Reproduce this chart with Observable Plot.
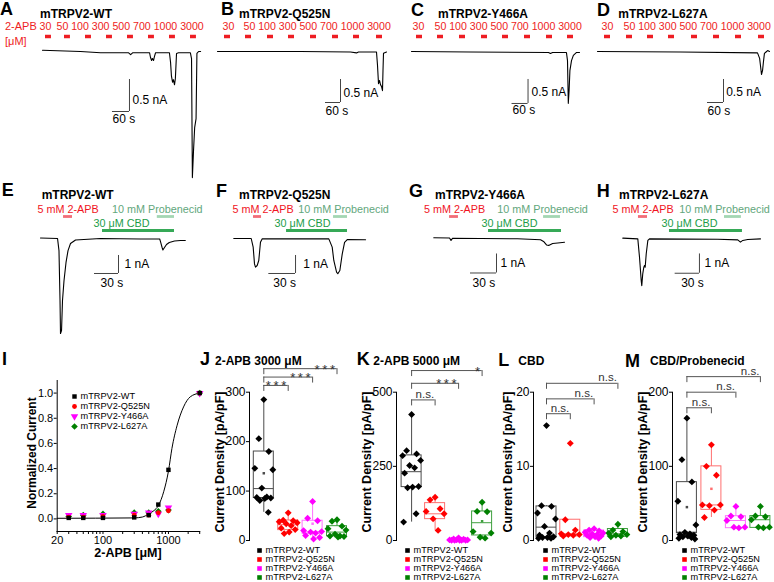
<!DOCTYPE html>
<html><head><meta charset="utf-8">
<script src="https://cdn.jsdelivr.net/npm/d3@7"></script>
<script src="https://cdn.jsdelivr.net/npm/@observablehq/plot@0.6"></script>
<style>
body{margin:0;background:#fff}
#fig{position:relative;width:774px;height:582px;overflow:hidden;background:#fff;font-family:"Liberation Sans",Arial,sans-serif;color:#000}
.lbl{position:absolute;white-space:nowrap;line-height:1}
#fig svg{position:absolute;overflow:visible}
</style></head><body><div id="fig"></div>
<script>
// ---------------- DATA ----------------
const genotypes = ["mTRPV2-WT", "mTRPV2-Q525N", "mTRPV2-Y466A", "mTRPV2-L627A"];
const concentrations = [30, 50, 100, 300, 500, 700, 1000, 3000];

// A-D: 2-APB application start times (s) and whole-cell traces [time s, current nA]
const appsA = [10.6, 77.6, 151.8, 225.9, 300, 374.1, 448.2, 522.3];
const appsB = [28, 112, 200, 284, 372, 460, 544, 636];
const appsC = [18.75, 97.5, 180, 262.5, 341.25, 423.75, 506.25, 585];
const appsD = [26.25, 108.75, 187.5, 266.25, 352.5, 435, 517.5, 603.75];
const traceA = [[0,0.02],[134,0],[205,-0.02],[304,-0.02],[311,-0.05],[318,-0.02],[378,-0.02],[381,-0.09],[385,-0.14],[388,-0.11],[392,-0.14],[395,-0.08],[399,-0.02],[448,-0.02],[452,-0.17],[455,-0.38],[459,-0.48],[462,-0.44],[466,-0.52],[469,-0.42],[473,-0.03],[480,-0.02],[522,-0.02],[526,-0.11],[529,-1.97],[533,-1.55],[537,-1.19],[542,-1.05],[545,-0.03],[551,0],[558,0]];
const traceB = [[0,0],[332,0],[532,-0.01],[556,-0.03],[564,-0.01],[636,-0.01],[640,-0.3],[644,-0.7],[648,-0.63],[652,-0.72],[656,-0.76],[660,-0.85],[662,-0.41],[664,-0.04],[676,-0.01]];
const traceC = [[0,0],[221,-0.01],[514,-0.02],[521,-0.04],[529,-0.02],[581,-0.02],[585,-0.19],[588,-1.08],[591,-0.81],[594,-0.4],[600,-0.19],[607,-0.08],[619,-0.02],[630,-0.02]];
const traceD = [[0,0],[311,-0.01],[600,-0.03],[608,-0.15],[611,-0.3],[615,-0.5],[619,-0.41],[622,-0.24],[626,-0.04],[632,-0.01],[638,0.02],[645,0]];

// E-H: drug application windows [start, end] (s) and traces
const apbE = [28.8, 40],  probE = [146, 167.5], cbdE = [77.5, 167.5];
const apbF = [22.5, 31.5], probF = [112.4, 128.1], cbdF = [59.6, 128.1];
const apbG = [18.5, 28.8], probG = [127, 146.5], cbdG = [63.5, 147.7];
const apbH = [19.7, 30.9], probH = [125.9, 146.8], cbdH = [58, 148.1];
const traceE = [[0,0.03],[21.3,0],[23.1,-0.67],[24.4,-3.44],[25,-5.28],[26.3,-5.11],[27.5,-3.44],[29.4,-2.33],[31.9,-1.33],[34.4,-0.67],[37.5,-0.28],[43.8,-0.08],[75,0],[125,-0.03],[149,-0.03],[150,-0.17],[152,-0.5],[153,-0.64],[155,-0.5],[157.5,-0.33],[161,-0.22],[167.5,-0.14],[175,-0.11],[181,-0.11]];
const traceF = [[0.3,0],[19.9,0],[22.1,-0.48],[23.6,-1.41],[24.7,-1.59],[26.6,-1.5],[28.4,-1.22],[30.3,-0.21],[32.3,-0.02],[107.1,-0.02],[110.9,-0.48],[112.7,-1.22],[115.8,-1.87],[117.2,-1.96],[119.5,-1.78],[122.2,-0.85],[124.8,-0.21],[127.8,-0.06],[148.4,-0.07]];
const traceG = [[0.3,0.01],[18.5,0],[20.2,-0.13],[21.9,-0.02],[54.2,-0.03],[96.9,-0.04],[123.5,-0.09],[127,-0.18],[130.6,-0.37],[132.9,-0.39],[137.5,-0.29],[143.3,-0.26],[151.2,-0.22]];
const traceH = [[0.4,0.02],[18.9,-0.02],[21,-0.97],[23.1,-2.18],[23.8,-2.44],[25,-1.83],[26.3,-1.49],[27.2,-1.4],[28,-1.49],[29.3,-0.79],[31.3,-0.1],[33.3,-0.02],[117.6,-0.04],[142.3,-0.07],[145.6,-0.19],[148.5,-0.1],[154.6,-0.05],[170.3,-0.02]];

// I: dose-response (normalized current)
const doseConc = [30, 50, 100, 300, 500, 700, 1000, 3000];
const doseWT    = [0.008, 0.008, 0.008, 0.012, 0.03, 0.114, 0.39, 1.0];
const doseQ525N = [0.015, 0.015, 0.02, 0.03, 0.03, 0.05, 0.065, 1.0];
const doseY466A = [0.03, 0.03, 0.03, 0.04, 0.05, 0.04, 0.09, 1.0];
const doseL627A = [0.02, 0.03, 0.04, 0.05, 0.05, 0.06, 0.07, 1.0];
const fitConc = [20, 300, 400, 500, 600, 700, 850, 1000, 1130, 1350, 1700, 2150, 3000];
const fitWT   = [0.005, 0.008, 0.015, 0.04, 0.066, 0.105, 0.22, 0.38, 0.56, 0.74, 0.89, 0.97, 1.0];

// J-M: current densities (pA/pF), per genotype
const jWT = [285, 206, 180, 146, 143, 106, 88, 87, 86, 85, 81, 57];
const jQ525N = [56, 41, 40, 38, 36, 34, 30, 25, 22, 17, 14];
const jY466A = [79, 45, 40, 20, 18, 17, 15, 10, 6, 3];
const jL627A = [42, 39, 29, 24, 21, 13, 9, 9, 8, 7];
const kWT = [425, 303, 292, 286, 270, 253, 245, 227, 182, 180, 178, 90, 62];
const kQ525N = [146, 137, 107, 98, 90, 73, 34];
const kY466A = [9, 5, 4, 2, 2, 2, 1, 1, 1, 1, 1];
const kL627A = [129, 98, 97, 30, 25, 11, 8];
const lWT = [15.5, 4.7, 4.6, 3.7, 2.9, 1.9, 1.0, 0.7, 0.5, 0.4, 0.4, 0.3, 0.3];
const lQ525N = [13.1, 2.8, 1.4, 0.9, 0.8, 0.8, 0.7, 0.6];
const lY466A = [1.6, 1.4, 1.3, 1.1, 1.0, 0.9, 0.8, 0.7, 0.6, 0.5, 0.4, 0.3];
const lL627A = [2.2, 1.4, 1.2, 1.0, 0.8, 0.7, 0.6, 0.5];
const mWT = [165, 109, 79, 53, 21, 11, 9, 8, 7, 6, 5, 4, 3, 2];
const mQ525N = [129, 100, 88, 48, 48, 47, 41, 31];
const mY466A = [46, 33, 32, 27, 18, 18, 17];
const mL627A = [46, 33, 32, 28, 18, 18, 17];
// box statistics [q1, median, q3, whiskerLow, whiskerHigh, mean]
const boxJ = [[86,105,180,57,285,136],[21,32,40.5,14,56,null],[13.5,17.5,40,3,79,34],[8.7,17,29,7,42,null]];
const boxK = [[180,232,287,62,425,null],[72,90,126,34,146,null],[1,2,3,1,9,null],[17,60,98,8,129,65]];
const boxL = [[0.45,1.8,4.6,0.3,4.7,null],[0.55,0.9,2.8,0.6,2.8,null],[0.45,0.9,1.35,0.3,1.6,null],[0.5,0.9,1.55,0.5,2.2,null]];
const boxM = [[9.9,11.2,78.7,2,165,45],[41.3,48,100,31,129,69.7],[16.6,27,32.8,17,46,null],[17,28,33,17,46,null]];
// significance (vs WT): bracket heights and labels
const sigJ = [313.7, 330.6, 347.6], sigJlbl = ["***", "***", "***"];
const sigK = [474, 530, 573],       sigKlbl = ["n.s.", "***", "*"];
const sigL = [17.1, 19.1, 21.2],    sigLlbl = ["n.s.", "n.s.", "n.s."];
const sigM = [179, 200, 221],       sigMlbl = ["n.s.", "n.s.", "n.s."];

// ---------------- STYLE / HELPERS ----------------
const RED = "#ee1d23";
const genoColors = ["#000000", "#ff0000", "#ff00ff", "#008000"];
const boxColors = ["#4a4a4a", "#ff6f6f", "#ff70ff", "#3fa03f"];
const STYLE = {background: "transparent", overflow: "visible", fontFamily: '"Liberation Sans", Arial, sans-serif', fontSize: "12px", color: "#000"};
const fig = document.getElementById("fig");
function put(el, left, top) { el.style.position = "absolute"; el.style.left = left + "px"; el.style.top = top + "px"; fig.appendChild(el); }
function label(text, x, y, o = {}) {
  const d = document.createElement("div");
  d.className = "lbl"; d.textContent = text;
  d.style.left = x + "px"; d.style.top = y + "px";
  d.style.fontSize = (o.size || 12) + "px";
  d.style.fontWeight = o.bold ? "bold" : "normal";
  d.style.color = o.color || "#000";
  const ax = o.anchor === "middle" ? "-50%" : o.anchor === "end" ? "-100%" : "0";
  d.style.transform = `translate(${ax},-50%)` + (o.rotate ? ` rotate(${o.rotate}deg)` : "");
  fig.appendChild(d);
}

function tracePanel(c, trace, bar) {
  const xd = [(c.left - c.x0) / c.pxPerS, (c.left + c.width - c.x0) / c.pxPerS];
  const yd = [-(c.top + c.height - c.y0) / c.pxPerNA, (c.y0 - c.top) / c.pxPerNA];
  const svg = Plot.plot({
    width: c.width, height: c.height, margin: 0, style: STYLE,
    x: {domain: xd, axis: null}, y: {domain: yd, axis: null},
    marks: [
      Plot.line(trace, {x: d => d[0], y: d => d[1], stroke: "#000", strokeWidth: 1.1}),
      Plot.ruleX([bar], {x: "t", y1: "i", y2: d => d.i + d.amp, stroke: "#444"}),
      Plot.ruleY([bar], {y: "i", x1: d => d.t - d.dur, x2: "t", stroke: "#444"}),
      Plot.text([bar], {x: "t", y: d => d.i + d.amp / 2, text: d => d.ampLabel, textAnchor: "start", dx: c.ampDx, dy: c.ampDy, fontSize: 12}),
      Plot.text([bar], {x: d => d.t - d.dur, y: "i", text: d => d.durLabel, textAnchor: "start", dx: c.durDx, dy: c.durDy, fontSize: 12})
    ]
  });
  put(svg, c.left, c.top);
  return xd;
}

function doseRow(c, xd, apps, dur, dx1, dx2) {
  const rows = apps.map((s, k) => ({s, e: s + dur, c: concentrations[k]}));
  const svg = Plot.plot({
    width: c.width, height: 30, margin: 0, style: STYLE,
    x: {domain: xd, axis: null},
    y: {type: "point", domain: ["label", "dash"], range: [8, 18.5], padding: 0, axis: null},
    marks: [
      Plot.ruleY(rows, {y: () => "dash", x1: "s", x2: "e", stroke: RED, strokeWidth: 3.5}),
      Plot.text(rows.slice(0, 1), {x: d => (d.s + d.e) / 2, y: () => "label", text: d => String(d.c), dx: dx1, fontSize: 10.6, fill: RED}),
      Plot.text(rows.slice(1, 2), {x: "s", y: () => "label", text: () => concentrations.slice(1).join(" "), textAnchor: "start", dx: dx2, fontSize: 10.6, fill: RED})
    ]
  });
  put(svg, c.left, 18);
}

function drugRow(c, xd, apb, prob, cbd, dxs) {
  const svg = Plot.plot({
    width: c.width, height: 40, margin: 0, style: STYLE,
    x: {domain: xd, axis: null},
    y: {type: "point", domain: ["l1", "b1", "l2", "b2"], range: [8, 31], padding: 0, axis: null},
    marks: [
      Plot.ruleY([apb], {y: () => "b1", x1: d => d[0], x2: d => d[1], stroke: "#f26d78", strokeWidth: 2.8}),
      Plot.ruleY([prob], {y: () => "b1", x1: d => d[0], x2: d => d[1], stroke: "#a3d6b3", strokeWidth: 2.8}),
      Plot.ruleY([cbd], {y: () => "b2", x1: d => d[0], x2: d => d[1], stroke: "#36a957", strokeWidth: 3}),
      Plot.text([apb], {x: d => (d[0] + d[1]) / 2, y: () => "l1", text: () => "5 mM 2-APB", dx: dxs[0], fontSize: 10.8, fill: "#f0141e"}),
      Plot.text([prob], {x: d => d[0], y: () => "l1", text: () => "10 mM Probenecid", dx: dxs[1], fontSize: 10.8, fill: "#62a77c"}),
      Plot.text([cbd], {x: d => d[0], y: () => "l2", text: () => "30 \u03bcM CBD", textAnchor: "start", dx: dxs[2], fontSize: 10.8, fill: "#1c9c48"})
    ]
  });
  put(svg, c.left, 200);
}

function boxPanel(c, pts, stats, sig, sigLbl) {
  const T = 356, H = 190;
  const L = c.axisX - 32;
  const W = Math.round(c.c1 + 3.6 * c.s - L);
  const ml = c.axisX - L;
  const gA = 1 - (c.c1 - c.axisX) / c.s;
  const gB = 1 + (L + W - c.c1) / c.s;
  const hw = 10 / c.s;
  const drop = c.ymax * 6 / 148.3;
  const jit = [0, -0.5, 0.5, -0.9, 0.9, -0.2, 0.3, -0.7, 0.7, 0.1, -0.4, 0.45, -0.8, 0.8];
  const marks = [];
  stats.forEach((st, k) => {
    const g = k + 1, col = boxColors[k];
    const row = [{g, q1: st[0], med: st[1], q3: st[2], lo: st[3], hi: st[4], mean: st[5]}];
    marks.push(
      Plot.ruleX(row, {x: "g", y1: "q3", y2: "hi", stroke: col}),
      Plot.ruleX(row, {x: "g", y1: "lo", y2: "q1", stroke: col}),
      Plot.rect(row, {x1: d => d.g - hw, x2: d => d.g + hw, y1: "q1", y2: "q3", stroke: col, fill: "none"}),
      Plot.ruleY(row, {y: "med", x1: d => d.g - hw, x2: d => d.g + hw, stroke: col})
    );
    const data = pts[k].map((v, i) => ({x: g + jit[i % jit.length] * hw, v}));
    marks.push(Plot.dot(data, {x: "x", y: "v", symbol: "diamond2", r: 3.1, fill: genoColors[k]}));
    if (st[5] != null) marks.push(Plot.dot(row, {x: "g", y: "mean", symbol: "square", r: 1.4, fill: col}));
  });
  const br = sig.map((h, k) => ({x1: 1, x2: k + 2, h, lbl: sigLbl[k]}));
  marks.push(
    Plot.ruleY(br, {y: "h", x1: "x1", x2: "x2", stroke: "#555"}),
    Plot.ruleX(br, {x: "x1", y1: "h", y2: d => d.h - drop, stroke: "#555"}),
    Plot.ruleX(br, {x: "x2", y1: "h", y2: d => d.h - drop, stroke: "#555"}),
    Plot.text(br.filter(d => d.lbl.includes("*")), {x: "x2", y: "h", text: d => d.lbl.split("").join("\u2009"), textAnchor: "end", lineAnchor: "bottom", dx: -2, dy: 5, fontSize: 13, fill: "#333"}),
    Plot.text(br.filter(d => !d.lbl.includes("*")), {x: "x2", y: "h", text: "lbl", textAnchor: "end", lineAnchor: "bottom", dx: -1, dy: -2, fontSize: 11.5, fill: "#333"})
  );
  const svg = Plot.plot({
    width: W, height: H, marginLeft: ml, marginRight: 0, marginTop: 391.7 - T, marginBottom: T + H - 540,
    style: STYLE,
    x: {domain: [gA, gB], axis: null},
    y: {domain: [0, c.ymax], ticks: c.ticks, tickSize: 3, tickPadding: 1, line: true, label: null, tickFormat: d => String(d)},
    marks
  });
  put(svg, L, T);
}

function legend(left, top, y0, y1, symbols, sizes, rot) {
  const marks = [];
  genotypes.forEach((name, k) => {
    marks.push(Plot.dot([name], {x: () => 0, y: d => d, symbol: symbols[k], r: sizes[k], fill: genoColors[k], rotate: rot[k]}));
    marks.push(Plot.text([name], {x: () => 0, y: d => d, text: d => d, textAnchor: "start", dx: 6, fontSize: 9.2}));
  });
  const svg = Plot.plot({
    width: 110, height: y1 - top + 8, margin: 0, style: STYLE,
    x: {domain: [0, 1], range: [4, 100], axis: null},
    y: {type: "point", domain: genotypes, range: [y0 - top, y1 - top], padding: 0, axis: null},
    marks
  });
  put(svg, left, top);
}

// ---------------- ROW 1: A-D ----------------
const cfgA = {x0: 42, y0: 51, pxPerS: 17 / 60, pxPerNA: 64, left: 40, top: 44, width: 170, height: 140, ampDx: 3, ampDy: 5, durDx: 0, durDy: 7.5};
const cfgB = {x0: 217, y0: 51, pxPerS: 15 / 60, pxPerNA: 46, left: 215, top: 44, width: 180, height: 80, ampDx: 3, ampDy: 2, durDx: 0, durDy: 9};
const cfgC = {x0: 411, y0: 51, pxPerS: 16 / 60, pxPerNA: 48, left: 409, top: 44, width: 175, height: 80, ampDx: 3.5, ampDy: 1, durDx: 0.5, durDy: 7};
const cfgD = {x0: 597, y0: 51, pxPerS: 16 / 60, pxPerNA: 46, left: 595, top: 44, width: 178, height: 80, ampDx: 2.7, ampDy: 1.5, durDx: 0, durDy: 9};
const sb05 = (t, i) => ({t, i, dur: 60, amp: 0.5, durLabel: "60 s", ampLabel: "0.5 nA"});
const xdA = tracePanel(cfgA, traceA, sb05(307, -0.9375));
const xdB = tracePanel(cfgB, traceB, sb05(492, -1.109));
const xdC = tracePanel(cfgC, traceC, sb05(437, -1.083));
const xdD = tracePanel(cfgD, traceD, sb05(472.5, -1.109));
doseRow(cfgA, xdA, appsA, 21, -3, -8);
doseRow(cfgB, xdB, appsB, 24, 1, -2);
doseRow(cfgC, xdC, appsC, 22.5, -1, -3);
doseRow(cfgD, xdD, appsD, 22.5, 0, -3);

// ---------------- ROW 2: E-H ----------------
const cfgE = {x0: 40, y0: 238, pxPerS: 24 / 30, pxPerNA: 18, left: 38, top: 232, width: 152, height: 105, ampDx: 6, ampDy: 0, durDx: 6, durDy: 9.7};
const cfgF = {x0: 233, y0: 238, pxPerS: 26.7 / 30, pxPerNA: 18, left: 231, top: 232, width: 140, height: 60, ampDx: 7.7, ampDy: 0, durDx: 4.4, durDy: 9.7};
const cfgG = {x0: 433, y0: 237.5, pxPerS: 26 / 30, pxPerNA: 19, left: 431, top: 232, width: 140, height: 60, ampDx: 4, ampDy: 0, durDx: 2, durDy: 10};
const cfgH = {x0: 622, y0: 238, pxPerS: 24.3 / 30, pxPerNA: 19.3, left: 620, top: 232, width: 148, height: 60, ampDx: 5, ampDy: 0, durDx: 6, durDy: 10};
const sb1 = (t, i) => ({t, i, dur: 30, amp: 1, durLabel: "30 s", ampLabel: "1 nA"});
const xdE = tracePanel(cfgE, traceE, sb1(97.5, -1.944));
const xdF = tracePanel(cfgF, traceF, sb1(69.7, -1.944));
const xdG = tracePanel(cfgG, traceG, sb1(72.7, -1.842));
const xdH = tracePanel(cfgH, traceH, sb1(95, -1.8));
drugRow(cfgE, xdE, apbE, probE, cbdE, [0, 0, -9]);
drugRow(cfgF, xdF, apbF, probF, cbdF, [5.5, 10, -12]);
drugRow(cfgG, xdG, apbG, probG, cbdG, [0.5, -1, -7]);
drugRow(cfgH, xdH, apbH, probH, cbdH, [0, 0, -8]);

// ---------------- I: dose response ----------------
(function () {
  const T = 370, H = 175;
  const series = [doseL627A, doseY466A, doseQ525N, doseWT];
  const sym = ["diamond2", "triangle", "circle", "square"];
  const cols = [genoColors[3], genoColors[2], genoColors[1], genoColors[0]];
  const rs = [3, 2.8, 2.4, 2.5];
  const marks = [
    Plot.line(fitConc.map((c, k) => [c, fitWT[k]]), {x: d => d[0], y: d => d[1], curve: "monotone-x", stroke: "#000", strokeWidth: 1})
  ];
  series.forEach((s, k) => {
    marks.push(Plot.dot(doseConc.map((c, j) => [c, s[j]]), {x: d => d[0], y: d => d[1], symbol: sym[k], r: rs[k], fill: cols[k], rotate: sym[k] === "triangle" ? 180 : 0}));
  });
  const minor = [20, 30, 40, 50, 60, 70, 80, 90, 100, 200, 300, 400, 500, 600, 700, 800, 900, 1000, 2000, 3000];
  const svg = Plot.plot({
    width: 215, height: H, marginLeft: 56.7, marginRight: 215 - 199.2, marginTop: 380 - T, marginBottom: T + H - 531,
    style: {...STYLE, fontSize: "11px"},
    x: {type: "log", domain: [20, 3000], ticks: minor, tickFormat: d => (d === 20 || d === 100 || d === 1000) ? String(d) : "", tickSize: 3, tickPadding: 2, line: true, label: null},
    y: {domain: [-0.1, 1.1], ticks: [0, 0.2, 0.4, 0.6, 0.8, 1.0], tickFormat: d => d.toFixed(1), tickSize: 3, tickPadding: 1, line: true, label: null},
    marks
  });
  put(svg, 0, T);
})();
legend(70, 389, 395, 427, ["square", "circle", "triangle", "diamond2"], [2.5, 2.4, 2.8, 3], [0, 0, 180, 0]);

// ---------------- J-M: box plots ----------------
boxPanel({axisX: 249, c1: 263.3, s: 24.4, ymax: 300, ticks: [0, 100, 200, 300]}, [jWT, jQ525N, jY466A, jL627A], boxJ, sigJ, sigJlbl);
boxPanel({axisX: 395.7, c1: 410.8, s: 23.5, ymax: 500, ticks: [0, 250, 500]}, [kWT, kQ525N, kY466A, kL627A], boxK, sigK, sigKlbl);
boxPanel({axisX: 533.3, c1: 546.3, s: 23.8, ymax: 20, ticks: [0, 10, 20]}, [lWT, lQ525N, lY466A, lL627A], boxL, sigL, sigLlbl);
boxPanel({axisX: 672.3, c1: 686.7, s: 24.5, ymax: 200, ticks: [0, 100, 200]}, [mWT, mQ525N, mY466A, mL627A], boxM, sigM, sigMlbl);
const sq = ["square", "square", "square", "square"], sqr = [2.6, 2.6, 2.6, 2.6], r0 = [0, 0, 0, 0];
legend(255.3, 545, 549.3, 577.7, sq, sqr, r0);
legend(402.7, 545, 549.3, 577.7, sq, sqr, r0);
legend(541, 545, 549.3, 577.7, sq, sqr, r0);
legend(680.3, 545, 549.3, 577.7, sq, sqr, r0);

// ---------------- TEXT ----------------
const letters = [["A", 0, 9], ["B", 221, 9], ["C", 411, 10], ["D", 597, 10], ["E", 1.7, 189.5], ["F", 216, 191], ["G", 409, 191], ["H", 596.7, 191], ["I", 2, 359], ["J", 200, 359], ["K", 356.7, 359], ["L", 498.3, 360], ["M", 625, 360.7]];
letters.forEach(([t, x, y]) => label(t, x, y, {size: 18, bold: true}));
[["mTRPV2-WT", 40, 14], ["mTRPV2-Q525N", 239, 14], ["mTRPV2-Y466A", 438, 14], ["mTRPV2-L627A", 618.3, 14],
 ["mTRPV2-WT", 41.7, 195], ["mTRPV2-Q525N", 239, 195], ["mTRPV2-Y466A", 435, 195], ["mTRPV2-L627A", 619, 195],
 ["2-APB 3000 \u03bcM", 215, 360.7], ["2-APB 5000 \u03bcM", 373.3, 360.7], ["CBD", 518.3, 360.7], ["CBD/Probenecid", 650, 360.7]
].forEach(([t, x, y]) => label(t, x, y, {size: 12, bold: true}));
label("2-APB", 5, 26, {size: 11, color: RED});
label("[\u03bcM]", 5, 41, {size: 11, color: RED});
label("Normalized Current", 32, 452.5, {size: 12, bold: true, anchor: "middle", rotate: -90});
label("2-APB [\u03bcM]", 128, 553, {size: 12.5, bold: true, anchor: "middle"});
[220, 366.7, 508, 643].forEach(x => label("Current Density [pA/pF]", x, 461.7, {size: 12.5, bold: true, anchor: "middle", rotate: -90}));
</script></body></html>
